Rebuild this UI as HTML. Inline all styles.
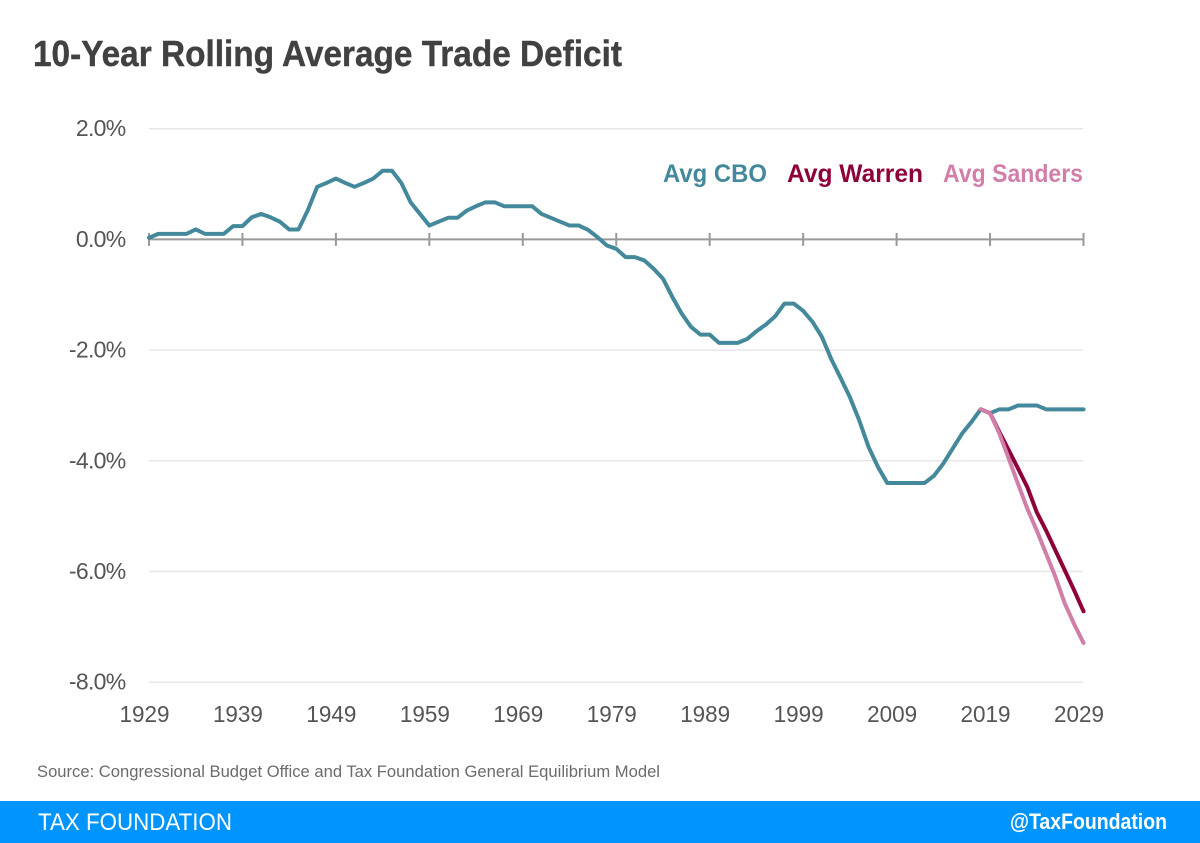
<!DOCTYPE html>
<html lang="en">
<head>
<meta charset="utf-8">
<title>10-Year Rolling Average Trade Deficit</title>
<style>
html,body{margin:0;padding:0;background:#fff;width:1200px;height:843px;overflow:hidden}
svg{display:block;font-family:"Liberation Sans",sans-serif}
</style>
</head>
<body>
<svg id="chart" xmlns="http://www.w3.org/2000/svg" width="1200" height="843" viewBox="0 0 1200 843">
  <rect x="0" y="0" width="1200" height="843" fill="#fff"/>
  <text x="33" y="66" font-size="36" font-weight="700" fill="#414141" stroke="#414141" stroke-width="0.4" textLength="589" lengthAdjust="spacingAndGlyphs">10-Year Rolling Average Trade Deficit</text>
  <g id="grid"></g>
  <g id="xaxis"></g>
  <g id="ylabels"></g>
  <g id="series"></g>
  <g font-size="25" font-weight="700">
    <text x="663" y="182" fill="#44899b" textLength="104" lengthAdjust="spacingAndGlyphs">Avg CBO</text>
    <text x="787" y="182" fill="#8e0039" textLength="136" lengthAdjust="spacingAndGlyphs">Avg Warren</text>
    <text x="943" y="182" fill="#d17ea9" textLength="140" lengthAdjust="spacingAndGlyphs">Avg Sanders</text>
  </g>
  <text x="37" y="777" font-size="16.5" fill="#6b6b6b" textLength="623" lengthAdjust="spacingAndGlyphs">Source: Congressional Budget Office and Tax Foundation General Equilibrium Model</text>
  <rect x="0" y="801" width="1200" height="42" fill="#0094ff"/>
  <text x="38" y="830" font-size="24" fill="#fff" textLength="194" lengthAdjust="spacingAndGlyphs">TAX FOUNDATION</text>
  <text x="1010" y="829" font-size="22" font-weight="700" fill="#fff" textLength="157" lengthAdjust="spacingAndGlyphs">@TaxFoundation</text>
</svg>
<script>
const xTickYears = [1929,1939,1949,1959,1969,1979,1989,1999,2009,2019,2029];
const yTickValues = [2,0,-2,-4,-6,-8];
const yTickLabels = ["2.0%","0.0%","-2.0%","-4.0%","-6.0%","-8.0%"];
const startYear = 1929;
const warrenStartYear = 2018;
const sandersStartYear = 2018;
const cboValues = [
  0.03,0.1,0.1,0.1,0.1,0.18,0.1,0.1,0.1,0.24,
  0.24,0.4,0.46,0.4,0.32,0.18,0.18,0.53,0.95,1.02,
  1.1,1.02,0.95,1.02,1.1,1.24,1.24,1.02,0.67,0.46,
  0.25,0.32,0.39,0.39,0.52,0.6,0.67,0.67,0.6,0.6,
  0.6,0.6,0.46,0.39,0.32,0.25,0.25,0.17,0.04,-0.11,
  -0.17,-0.32,-0.32,-0.38,-0.53,-0.71,-1.04,-1.34,-1.58,-1.72,
  -1.72,-1.87,-1.87,-1.87,-1.8,-1.66,-1.54,-1.39,-1.16,-1.16,
  -1.29,-1.49,-1.76,-2.16,-2.5,-2.85,-3.27,-3.75,-4.11,-4.4,
  -4.4,-4.4,-4.4,-4.4,-4.27,-4.05,-3.78,-3.51,-3.3,-3.07,
  -3.14,-3.07,-3.07,-3.0,-3.0,-3.0,-3.07,-3.07,-3.07,-3.07,-3.07
];
const warrenValues = [-3.07,-3.14,-3.48,-3.81,-4.14,-4.48,-4.93,-5.26,-5.62,-5.98,-6.34,-6.72];
const sandersValues = [-3.07,-3.14,-3.51,-3.96,-4.42,-4.87,-5.26,-5.68,-6.1,-6.58,-6.95,-7.29];

const NS = "http://www.w3.org/2000/svg";
const xScale = yr => 149 + (yr - 1929) * 9.345;
const yScale = v => 239.4 - v * 55.35;
const make = (tag, parent) => { const n = document.createElementNS(NS, tag); parent.appendChild(n); return n; };
const set = (n, o) => { for (const k in o) n.setAttribute(k, o[k]); return n; };

const grid = document.getElementById("grid");
const ylabels = document.getElementById("ylabels");
yTickValues.forEach((v, i) => {
  if (v !== 0) {
    const gl = make("line", grid);
    set(gl, {x1:149, x2:1083, y1:yScale(v), y2:yScale(v), stroke:"#e6e6e6", "stroke-width":1.5});
    
    
  }
  const t = make("text", ylabels);
  set(t, {x:125.5, y:yScale(v) + 7.5, "text-anchor":"end", "font-size":23, "letter-spacing":"-0.7", fill:"#555"});
  t.textContent = yTickLabels[i];
  
  
});

const xaxis = document.getElementById("xaxis");
const axisLine = make("line", xaxis);
set(axisLine, {x1:xScale(1929), x2:xScale(2029), y1:yScale(0), y2:yScale(0), stroke:"#999", "stroke-width":2});


xTickYears.forEach(yr => {
  const tk = make("line", xaxis);
  set(tk, {x1:xScale(yr), x2:xScale(yr), y1:yScale(0) - 6.5, y2:yScale(0) + 6.5, stroke:"#999", "stroke-width":2});
  
  
  const t = make("text", xaxis);
  set(t, {x:xScale(yr) - 4.5, y:722, "text-anchor":"middle", "font-size":23, fill:"#555", textLength:50, lengthAdjust:"spacingAndGlyphs"});
  t.textContent = String(yr);
  
  
});

const series = document.getElementById("series");
const pathFor = (vals, start) => vals.map((v, i) => xScale(start + i).toFixed(2) + "," + yScale(v).toFixed(2)).join(" ");
const drawLine = (vals, start, color) => {
  const p = make("polyline", series);
  set(p, {points:pathFor(vals, start), fill:"none", stroke:color, "stroke-width":4, "stroke-linejoin":"round", "stroke-linecap":"round"});
  return p;
};
const cboLine = drawLine(cboValues, startYear, "#44899b");


const warrenLine = drawLine(warrenValues, warrenStartYear, "#8e0039");


const sandersLine = drawLine(sandersValues, sandersStartYear, "#d17ea9");


</script>
</body>
</html>
